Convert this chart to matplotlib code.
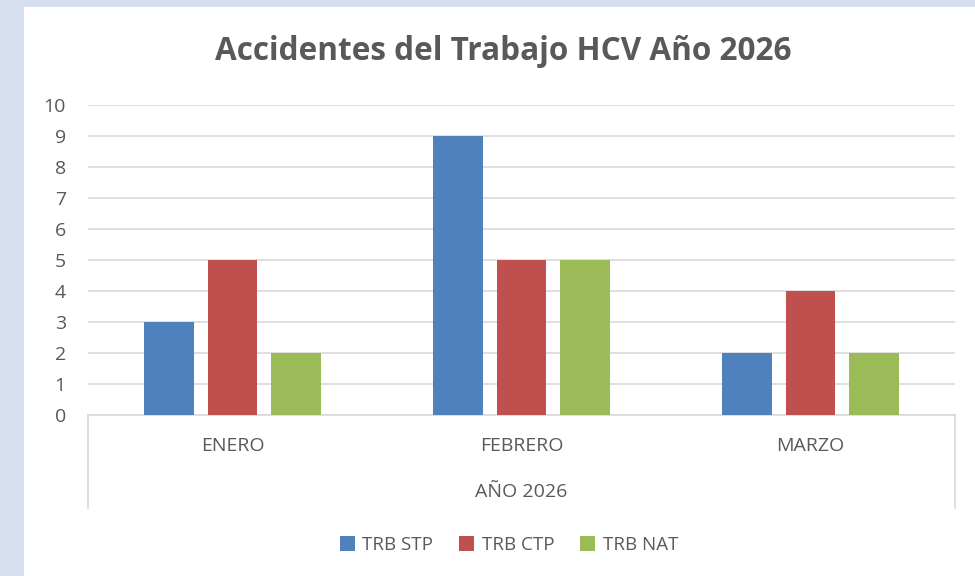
import matplotlib.pyplot as plt
import numpy as np
from matplotlib.patches import Rectangle

months = ['ENERO', 'FEBRERO', 'MARZO']
year_label = 'AÑO 2026'
series_names = ['TRB STP', 'TRB CTP', 'TRB NAT']
trb_stp = [3, 9, 2]
trb_ctp = [5, 5, 4]
trb_nat = [2, 5, 2]
colors = ['#4F81BD', '#C0504D', '#9BBB59']

plt.rcParams['font.family'] = ['Open Sans', 'DejaVu Sans']
txt = '#595959'

fig = plt.figure(figsize=(9.75, 5.76), dpi=100)
fig.patch.set_facecolor('#D5DFF0')
# white chart area (image is cropped on right and bottom)
fig.patches.append(Rectangle((24/975, 0), 1, 1 - 7/576, transform=fig.transFigure,
                             facecolor='white', edgecolor='none', zorder=-5))

ax = fig.add_axes([88/975, 1 - 415/576, (955 - 88)/975, (415 - 105)/576])
ax.set_facecolor('none')

x = np.arange(len(months))
w = 0.173
step = 0.221
for i, (vals, name) in enumerate(zip([trb_stp, trb_ctp, trb_nat], series_names)):
    ax.bar(x + (i - 1) * step, vals, width=w, color=colors[i], label=name, zorder=3)

ax.set_xlim(-0.5, 2.5)
ax.set_ylim(0, 10)
ax.set_yticks(range(0, 11))
ax.yaxis.grid(True, color='#D9D9D9', linewidth=1.2, zorder=0)
ax.tick_params(axis='y', length=0, labelsize=14, labelcolor=txt, pad=16)
ax.tick_params(axis='x', length=0, labelsize=14, labelcolor=txt, pad=16)
ax.set_xticks(x)
ax.set_xticklabels(months)
for s in ax.spines.values():
    s.set_visible(False)

# category box (multi-level axis)
line_kw = dict(color='#D9D9D9', linewidth=1.2, clip_on=False, transform=ax.transAxes)
box_depth = (508 - 415) / (415 - 105)
ax.plot([0, 1], [0, 0], **line_kw)
ax.plot([0, 0], [0, -box_depth], **line_kw)
ax.plot([1, 1], [0, -box_depth], **line_kw)
ax.text(0.5, -(492 - 415) / (415 - 105), year_label, transform=ax.transAxes,
        ha='center', va='center', fontsize=14, color=txt)

fig.text(503/975, 1 - 51/576, 'Accidentes del Trabajo HCV Año 2026', ha='center', va='center',
         fontsize=22.7, fontweight='bold', color=txt)

leg = fig.legend(loc='center', bbox_to_anchor=(509/975, 1 - 545/576), ncol=3, frameon=False,
                 fontsize=13.5, handlelength=0.8, handleheight=0.8, handletextpad=0.4,
                 columnspacing=1.4)
for t in leg.get_texts():
    t.set_color(txt)

fig.savefig('out.png', dpi=100, facecolor=fig.get_facecolor())
